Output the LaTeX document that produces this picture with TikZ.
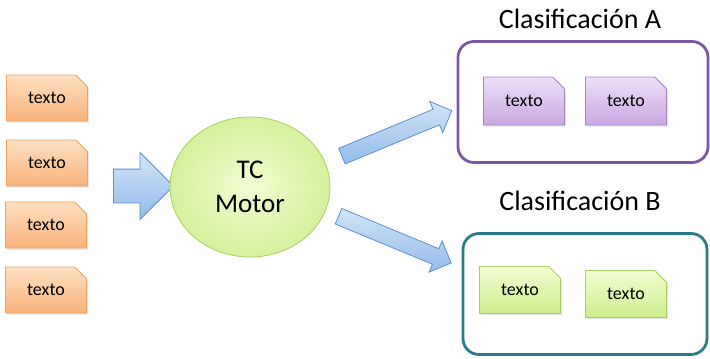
\documentclass[tikz,border=0pt]{standalone}
\usepackage{fontspec}
\setmainfont{Carlito}
\usetikzlibrary{shapes.misc,shapes.geometric,shapes.arrows,shadows}

\definecolor{naranjaA}{HTML}{FDE0C2}
\definecolor{naranjaB}{HTML}{F9B27A}
\definecolor{naranjaL}{HTML}{F2A15E}
\definecolor{moradoA}{HTML}{EEDFF8}
\definecolor{moradoB}{HTML}{C9A8E2}
\definecolor{moradoL}{HTML}{A584C6}
\definecolor{verdeA}{HTML}{F2FDD2}
\definecolor{verdeB}{HTML}{CDEE8C}
\definecolor{verdeL}{HTML}{A9CE62}
\definecolor{azulA}{HTML}{D3E5F8}
\definecolor{azulB}{HTML}{93BBEA}
\definecolor{azulL}{HTML}{5C8FD0}
\definecolor{marcoA}{HTML}{7E57A3}
\definecolor{marcoB}{HTML}{2A7C8C}

\begin{document}
\begin{tikzpicture}[
       x=1pt,y=-1pt,
       doc/.style={
         chamfered rectangle,
         chamfered rectangle corners=north east,
         chamfered rectangle xsep=6pt,
         chamfered rectangle ysep=6pt,
         minimum width=81pt,
         minimum height=46pt,
         inner sep=0pt,
         line width=0.8pt,
         font=\fontsize{18}{21}\selectfont,
         drop shadow={opacity=0.2,shadow xshift=1.5pt,shadow yshift=-1.5pt}
       },
       naranja/.style={doc,draw=naranjaL,top color=naranjaA,bottom color=naranjaB},
       morado/.style={doc,draw=moradoL,top color=moradoA,bottom color=moradoB},
       verde/.style={doc,draw=verdeL,top color=verdeA,bottom color=verdeB},
       flecha/.style={
         single arrow,
         draw=azulL,
         line width=0.8pt,
         top color=azulA,
         bottom color=azulB,
         inner xsep=0pt,
         single arrow tip angle=90
       },
       marco/.style={
         rectangle,
         rounded corners=16pt,
         line width=2.8pt,
         minimum width=248pt,
         minimum height=121pt
       },
       titulo/.style={font=\fontsize{28}{32}\selectfont}
     ]

       \useasboundingbox (0,0) rectangle (710,359);

       % entradas
       \node (t1) at (47,98) [naranja]{texto};
       \node (t2) at (47,163) [naranja]{texto};
       \node (t3) at (46,225) [naranja]{texto};
       \node (t4) at (46,290) [naranja]{texto};

       \node (f0) at (135,186) [flecha,minimum height=60pt,minimum width=66pt,
         inner ysep=16.5pt,single arrow head extend=16.5pt]{};

       % motor
       \node (motor) at (250,187) [ellipse,draw=verdeL,line width=0.8pt,
         inner color=verdeA,outer color=verdeB!85,
         minimum width=160pt,minimum height=140pt,align=center,
         font=\fontsize{27}{34}\selectfont]{TC\\Motor};

       \node (fa) at (393,135) [flecha,rotate=22.5,minimum height=119pt,
         minimum width=33pt,inner ysep=8pt,single arrow head extend=8.5pt]{};
       \node (fb) at (391,238) [flecha,rotate=-22.5,minimum height=122pt,
         minimum width=33pt,inner ysep=8pt,single arrow head extend=8.5pt]{};

       % clasificacion A
       \node (ca) at (583,102) [marco,draw=marcoA,minimum width=250pt]{};
       \node (la) at (580,19) [titulo]{Clasificación A};
       \node (a1) at (524,101) [morado,minimum height=48pt]{texto};
       \node (a2) at (626,101) [morado,minimum height=48pt]{texto};

       % clasificacion B
       \node (cb) at (585,294) [marco,draw=marcoB,minimum width=244pt]{};
       \node (lb) at (580,201) [titulo]{Clasificación B};
       \node (b1) at (520,290) [verde,minimum height=47pt]{texto};
       \node (b2) at (626,294) [verde,minimum height=47pt]{texto};

\end{tikzpicture}
\end{document}
